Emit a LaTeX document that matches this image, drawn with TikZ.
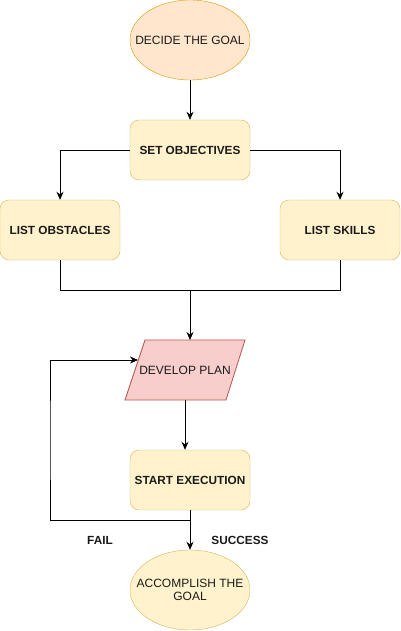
\documentclass[tikz,border=0pt]{standalone}
\usepackage{fontspec}
\setmainfont{Liberation Sans}
\usetikzlibrary{shapes.geometric,arrows.meta}
\definecolor{peachfill}{HTML}{FFE6CC}
\definecolor{peachline}{HTML}{D79B00}
\definecolor{yelfill}{HTML}{FFF2CC}
\definecolor{yelline}{HTML}{D6B656}
\definecolor{redfill}{HTML}{F8CECC}
\definecolor{redline}{HTML}{B85450}
\definecolor{txt}{HTML}{1A1A1A}
\tikzset{
  base/.style={font=\fontsize{12}{13.5}\selectfont, text=txt, inner sep=0pt, align=center},
  oval/.style={base, ellipse, inner xsep=-16pt, inner ysep=0pt, minimum width=120pt, minimum height=80pt},
  box/.style={base, rounded corners=9pt, minimum width=120pt, minimum height=60pt, draw=yelline, fill=yelfill, font=\fontsize{11.8}{13}\selectfont\bfseries},
  conn/.style={line width=0.8pt, black},
  arr/.style={conn, -{Stealth[length=8pt,width=7pt]}},
  lbl/.style={base, font=\fontsize{11.8}{13}\selectfont\bfseries}
}
\begin{document}
\begin{tikzpicture}[x=1pt,y=-1pt]
\useasboundingbox (0,0) rectangle (401,631);
\node[oval, draw=peachline, fill=peachfill] (goal) at (190,40) {DECIDE THE GOAL};
\node[box] (obj) at (190,150) {SET OBJECTIVES};
\node[box] (obs) at (60,230) {LIST OBSTACLES};
\node[box] (skl) at (340,230) {LIST SKILLS};
% parallelogram
\coordinate (ptl) at (145,340);
\coordinate (ptr) at (245,340);
\coordinate (pbr) at (226,400);
\coordinate (pbl) at (125,400);
\draw[redline, fill=redfill, line width=0.8pt] (ptl) -- (ptr) -- (pbr) -- (pbl) -- cycle;
\node[base] (plan) at (185,370) {DEVELOP PLAN};
\coordinate (ptop) at (190,340);
\coordinate (pbot) at (185,400);
\coordinate (pleft) at (138,360);
\node[box] (exe) at (190,480) {START EXECUTION};
\node[oval, draw=yelline, fill=yelfill] (done) at (190,590) {ACCOMPLISH THE\\GOAL};
\coordinate (merge) at (190,290);
\coordinate (split) at (190,520);
\draw[arr] (goal.south) -- (obj.north);
\draw[arr] (obj.west) -| (obs.north);
\draw[arr] (obj.east) -| (skl.north);
\draw[conn] (obs.south) |- (merge);
\draw[conn] (skl.south) |- (merge);
\draw[arr] (merge) -- (ptop);
\draw[arr] (pbot) -- (pbot |- exe.north);
\draw[arr] (exe.south) -- (done.north);
\draw[arr] (exe.south) -- (split) -| (50,440) |- (pleft);
\node[lbl] (fail) at (100,540) {FAIL};
\node[lbl] (succ) at (240,540) {SUCCESS};
\end{tikzpicture}
\end{document}
